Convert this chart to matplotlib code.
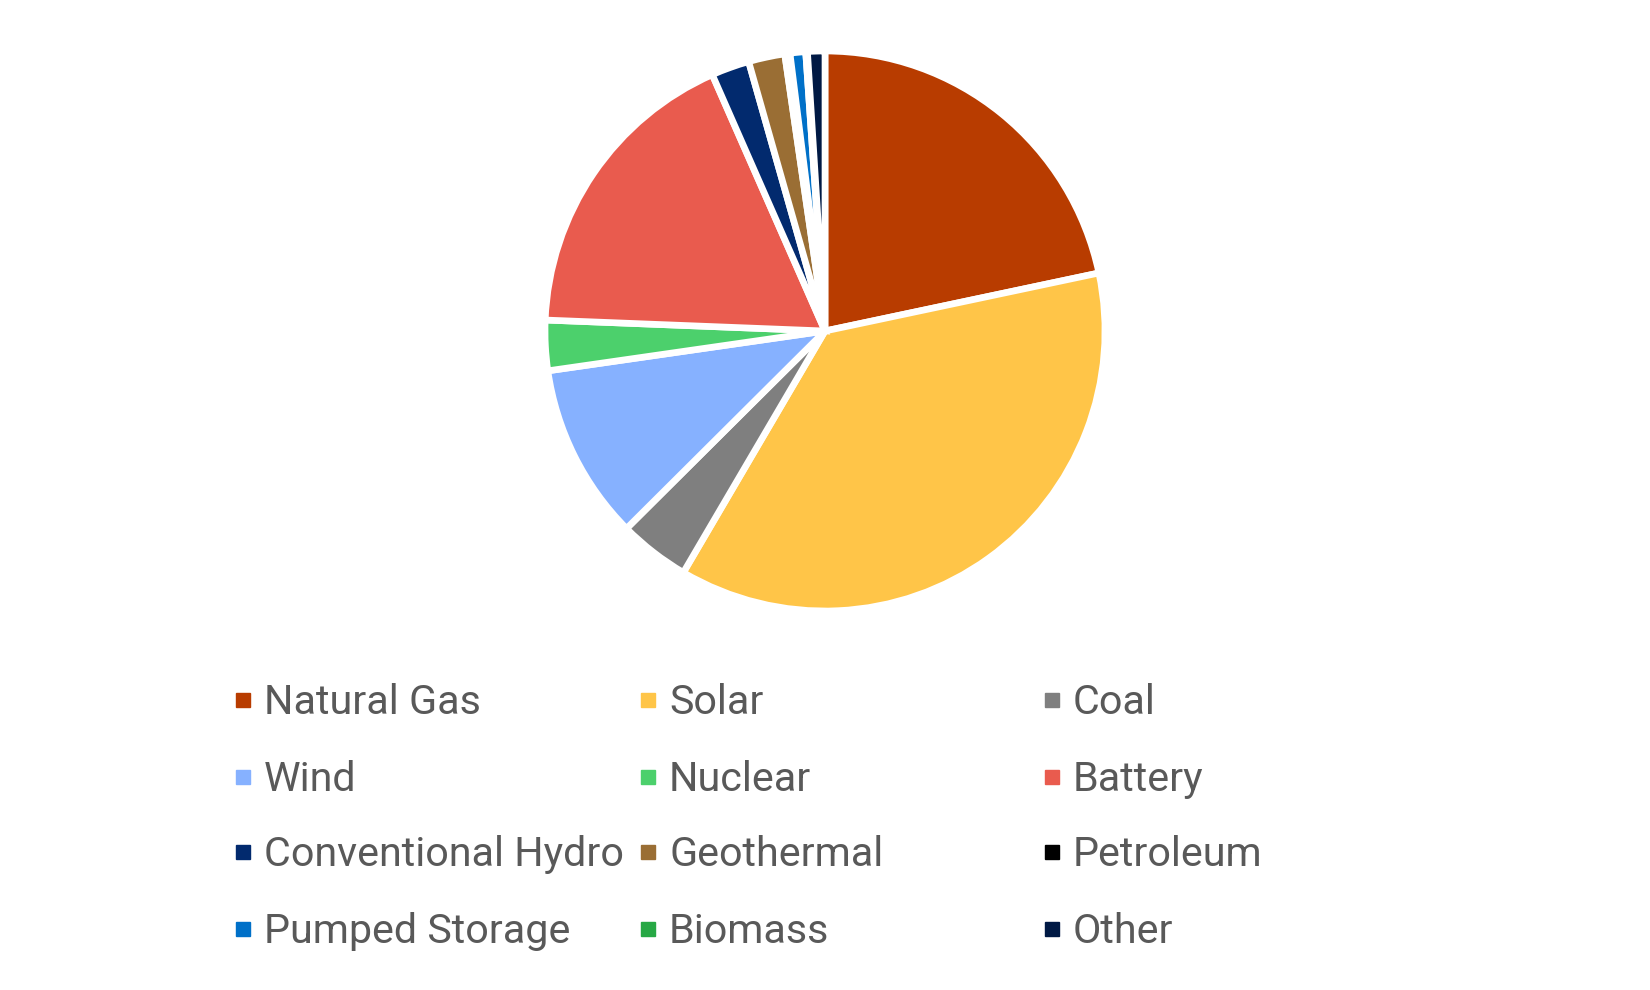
import matplotlib
matplotlib.use('Agg')
import matplotlib.pyplot as plt

# share of the total, in percent
labels = ['Natural Gas', 'Solar', 'Coal', 'Wind', 'Nuclear', 'Battery',
          'Conventional Hydro', 'Geothermal', 'Petroleum', 'Pumped Storage',
          'Biomass', 'Other']
shares = [21.7, 36.8, 4.1, 10.2, 2.9, 17.8, 2.2, 2.1, 0.3, 0.9, 0.1, 1.0]
colors = ['#B83C00', '#FFC548', '#7F7F7F', '#86B1FF', '#4CD06C', '#E95B4E',
          '#022A6E', '#9A6E34', '#000000', '#0070C8', '#27A845', '#001944']

plt.rcParams['font.family'] = ['Roboto', 'DejaVu Sans']

W, H = 1650, 990
fig = plt.figure(figsize=(W / 100, H / 100), dpi=100)

# pie, centred at (825, 331) px with radius ~280 px
cx, cy, r = 825, 331, 280
box = 620
ax = fig.add_axes([(cx - box / 2) / W, (H - cy - box / 2) / H, box / W, box / H])
ax.pie(shares, colors=colors, startangle=90, counterclock=False,
       wedgeprops=dict(edgecolor='white', linewidth=4.8))
lim = box / 2 / r
ax.set_xlim(-lim, lim)
ax.set_ylim(-lim, lim)
ax.set_aspect('equal')
ax.axis('off')

# legend laid out in a fixed 3-column grid
col_x = [243, 648, 1052]
row_y = [700, 777, 852, 929]
for i, (lab, col) in enumerate(zip(labels, colors)):
    x = col_x[i % 3]
    y = row_y[i // 3]
    fig.patches.append(plt.Rectangle(((x - 7) / W, (H - y - 7) / H), 14 / W, 14 / H,
                                     transform=fig.transFigure, color=col))
    fig.text((x + 21) / W, (H - y - 14) / H, lab, fontsize=29.7,
             color='#595959', va='baseline', ha='left')

fig.savefig('out.png', dpi=100)
